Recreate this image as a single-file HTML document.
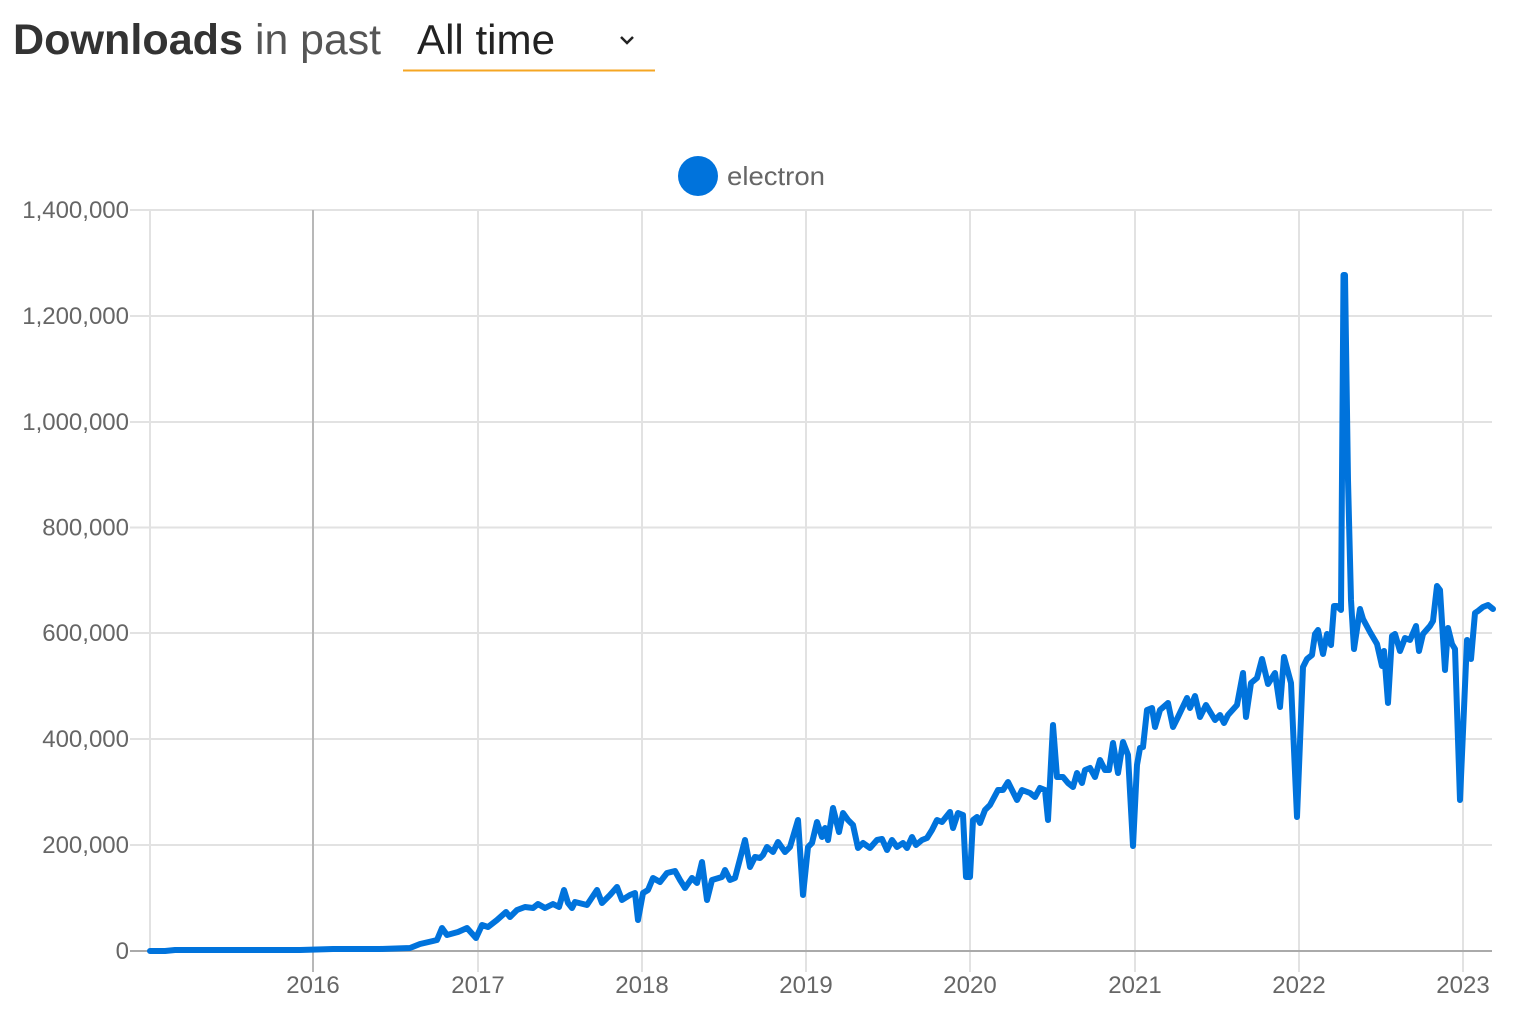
<!DOCTYPE html>
<html>
<head>
<meta charset="utf-8">
<style>
html,body{margin:0;padding:0;background:#fff;}
svg{display:block;}
text{font-family:"Liberation Sans",Arial,sans-serif;}
</style>
</head>
<body>
<svg width="1524" height="1030" viewBox="0 0 1524 1030" xmlns="http://www.w3.org/2000/svg">
<rect width="1524" height="1030" fill="#fff"/>
<!-- header -->
<text x="13" y="54" font-size="43" font-weight="bold" fill="#333" textLength="230" lengthAdjust="spacingAndGlyphs">Downloads</text>
<text x="255" y="54" font-size="43" fill="#555" textLength="126" lengthAdjust="spacingAndGlyphs">in past</text>
<text x="417" y="54" font-size="42" fill="#222" textLength="138" lengthAdjust="spacingAndGlyphs">All time</text>
<polyline points="621,37 627,43 633,37" fill="none" stroke="#222" stroke-width="2.5"/>
<rect x="403" y="69.5" width="252" height="2" fill="#f5a623"/>

<!-- legend -->
<circle cx="698" cy="176" r="20" fill="#0073dc"/>
<text x="727" y="185" font-size="26" fill="#666" textLength="98" lengthAdjust="spacingAndGlyphs">electron</text>

<!-- horizontal gridlines -->
<g stroke="#e2e2e2" stroke-width="2">
<line x1="130" y1="210" x2="1492" y2="210"/>
<line x1="130" y1="316" x2="1492" y2="316"/>
<line x1="130" y1="422" x2="1492" y2="422"/>
<line x1="130" y1="527.5" x2="1492" y2="527.5"/>
<line x1="130" y1="633" x2="1492" y2="633"/>
<line x1="130" y1="739" x2="1492" y2="739"/>
<line x1="130" y1="845" x2="1492" y2="845"/>
</g>
<!-- vertical gridlines -->
<g stroke="#e2e2e2" stroke-width="2">
<line x1="150" y1="210" x2="150" y2="951"/>
<line x1="478" y1="210" x2="478" y2="972"/>
<line x1="642" y1="210" x2="642" y2="972"/>
<line x1="806" y1="210" x2="806" y2="972"/>
<line x1="970" y1="210" x2="970" y2="972"/>
<line x1="1135" y1="210" x2="1135" y2="972"/>
<line x1="1299" y1="210" x2="1299" y2="972"/>
<line x1="1463" y1="210" x2="1463" y2="972"/>
</g>
<line x1="313" y1="210" x2="313" y2="972" stroke="#b8b8b8" stroke-width="2"/>
<!-- baseline axis -->
<line x1="130" y1="951" x2="1492" y2="951" stroke="#aaa" stroke-width="2"/>

<!-- y labels -->
<g font-size="24" fill="#666" text-anchor="end">
<text x="129" y="218">1,400,000</text>
<text x="129" y="324">1,200,000</text>
<text x="129" y="430">1,000,000</text>
<text x="129" y="535.5">800,000</text>
<text x="129" y="641">600,000</text>
<text x="129" y="747">400,000</text>
<text x="129" y="853">200,000</text>
<text x="129" y="959">0</text>
</g>
<!-- x labels -->
<g font-size="24" fill="#666" text-anchor="middle">
<text x="313" y="993">2016</text>
<text x="478" y="993">2017</text>
<text x="642" y="993">2018</text>
<text x="806" y="993">2019</text>
<text x="970" y="993">2020</text>
<text x="1135" y="993">2021</text>
<text x="1299" y="993">2022</text>
<text x="1463" y="993">2023</text>
</g>

<!-- series -->
<polyline fill="none" stroke="#0073dc" stroke-width="6" stroke-linejoin="round" stroke-linecap="round" points="
150,951 165,951 175,950 200,950 250,950 300,950 333,949 380,949 410,948 420,944 433,941 437,940 442,928 447,935 458,932 467,928 476,938 482,925 488,927 497,920 506,912 510,917 517,910 525,907 533,908 538,904 545,908 553,904 559,907 564,890 568,903 572,908 575,902 587,905 597,890 602,903 610,895 617,887 622,900 630,895 635,893 638,920 643,893 648,890 653,878 660,882 667,873 675,871 680,880 685,888 692,878 697,883 702,862 707,900 712,880 722,877 725,870 730,880 735,878 745,840 750,867 755,857 760,858 763,855 767,847 773,852 778,842 785,852 790,847 798,820 803,895 808,847 812,843 817,822 822,837 825,828 828,840 833,808 839,832 843,813 848,820 853,825 858,848 863,843 870,848 877,840 882,839 887,850 892,840 897,847 903,843 907,848 912,837 916,845 922,840 927,838 932,830 937,820 942,822 950,812 953,828 958,813 963,815 966,877 970,877 973,820 977,817 980,823 985,810 990,805 998,790 1003,790 1008,782 1012,790 1017,800 1022,790 1030,793 1035,797 1040,788 1045,790 1048,820 1053,725 1057,777 1063,777 1068,783 1073,787 1077,773 1082,783 1085,770 1090,768 1095,777 1100,760 1105,770 1109,770 1113,743 1118,773 1123,742 1128,755 1133,846 1137,765 1140,748 1143,747 1147,710 1152,708 1155,727 1160,710 1168,703 1173,727 1178,717 1187,698 1190,708 1195,696 1200,717 1206,705 1215,720 1220,715 1224,723 1228,715 1237,705 1243,673 1246,717 1251,683 1257,678 1262,659 1268,684 1275,673 1280,707 1284,657 1291,683 1297,817 1303,667 1307,659 1312,655 1315,634 1318,630 1323,654 1327,634 1331,645 1334,606 1337,606 1341,610 1343.5,275 1345,275 1348,480 1351,600 1354,649 1360,609 1363,619 1370,632 1377,644 1382,666 1384,651 1388,703 1392,636 1395,634 1400,651 1405,638 1410,640 1416,626 1419,651 1423,634 1430,626 1433,621 1437,586 1440,590 1445,670 1448,628 1452,644 1455,649 1460,800 1467,640 1471,659 1475,613 1478,611 1483,607 1488,605 1493,609"/>
</svg>
</body>
</html>
